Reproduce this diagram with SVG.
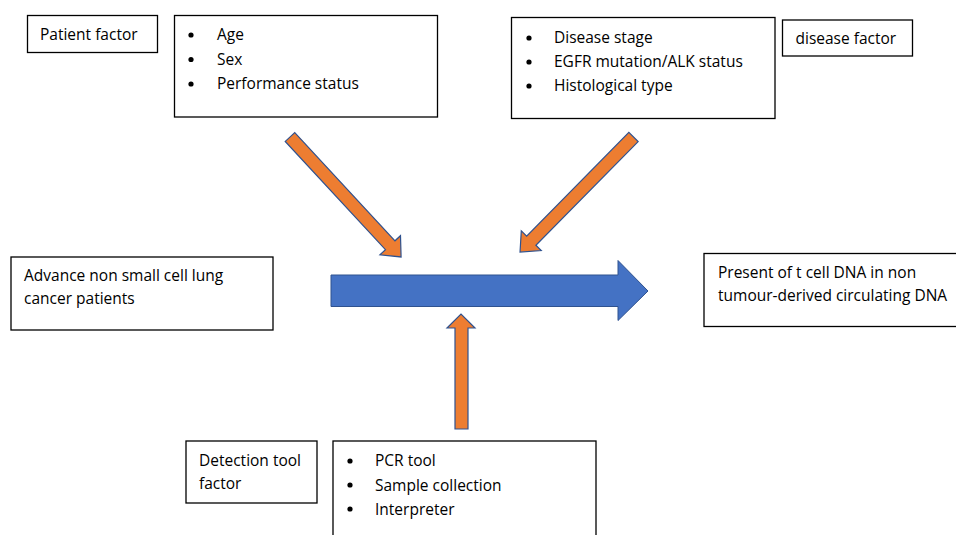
<svg xmlns="http://www.w3.org/2000/svg" width="956" height="535" viewBox="0 0 956 535">
<style>
.box{fill:#fff;stroke:#000;stroke-width:1.3}
.t{font-family:"Open Sans","Liberation Sans",sans-serif;font-size:15.5px;fill:#000}
.b{fill:#000}
.oa{fill:#ED7D31;stroke:#2F528F;stroke-width:1.2;stroke-linejoin:miter}
.ba{fill:#4472C4;stroke:#2F528F;stroke-width:1}
</style>
<rect width="956" height="535" fill="#fff"/>

<g id="connectors">
  <polygon class="ba" points="331,275 618,275 618,260.5 648,291 618,320.5 618,306.5 331,306.5"/>
  <g transform="translate(290,137) rotate(47.2)">
    <polygon class="oa" points="0,-6.5 147.5,-6.5 147.5,-14 163.5,0 147.5,14 147.5,6.5 0,6.5"/>
  </g>
  <g transform="translate(633.5,137) rotate(134.6)">
    <polygon class="oa" points="0,-6.5 145.6,-6.5 145.6,-14 161.6,0 145.6,14 145.6,6.5 0,6.5"/>
  </g>
  <polygon class="oa" points="455,429 455,328 447,328 461,314 475,328 468,328 468,429"/>
</g>

<g id="patient-factor">
  <rect class="box" x="27.5" y="15.5" width="130" height="37"/>
  <text class="t" x="40" y="40">Patient factor</text>
</g>

<g id="patient-list">
  <rect class="box" x="174.5" y="15.5" width="263" height="101.5"/>
  <circle class="b" cx="191" cy="35" r="2.6"/>
  <circle class="b" cx="191" cy="59.5" r="2.6"/>
  <circle class="b" cx="191" cy="84" r="2.6"/>
  <text class="t" x="217" y="40">Age</text>
  <text class="t" x="217" y="64.5">Sex</text>
  <text class="t" x="217" y="89">Performance status</text>
</g>

<g id="disease-list">
  <rect class="box" x="511.5" y="17.5" width="263.5" height="101"/>
  <circle class="b" cx="529" cy="38" r="2.6"/>
  <circle class="b" cx="529" cy="62" r="2.6"/>
  <circle class="b" cx="529" cy="86" r="2.6"/>
  <text class="t" x="554" y="43">Disease stage</text>
  <text class="t" x="554" y="67">EGFR mutation/ALK status</text>
  <text class="t" x="554" y="91">Histological type</text>
</g>

<g id="disease-factor">
  <rect class="box" x="782.5" y="20" width="130" height="36"/>
  <text class="t" x="795.5" y="44">disease factor</text>
</g>

<g id="nsclc-patients">
  <rect class="box" x="11" y="257" width="262" height="73"/>
  <text class="t" x="24" y="281">Advance non small cell lung</text>
  <text class="t" x="24" y="304">cancer patients</text>
</g>

<g id="outcome">
  <rect class="box" x="704" y="253.5" width="260" height="73"/>
  <text class="t" x="718" y="278">Present of t cell DNA in non</text>
  <text class="t" x="718" y="300.5">tumour-derived circulating DNA</text>
</g>

<g id="detection-factor">
  <rect class="box" x="186" y="441" width="131" height="62"/>
  <text class="t" x="199" y="466">Detection tool</text>
  <text class="t" x="199" y="488.5">factor</text>
</g>

<g id="detection-list">
  <rect class="box" x="333" y="441" width="263" height="110"/>
  <circle class="b" cx="350" cy="461" r="2.6"/>
  <circle class="b" cx="350" cy="485" r="2.6"/>
  <circle class="b" cx="350" cy="509" r="2.6"/>
  <text class="t" x="375" y="466">PCR tool</text>
  <text class="t" x="375" y="490.5">Sample collection</text>
  <text class="t" x="375" y="514.5">Interpreter</text>
</g>
</svg>
